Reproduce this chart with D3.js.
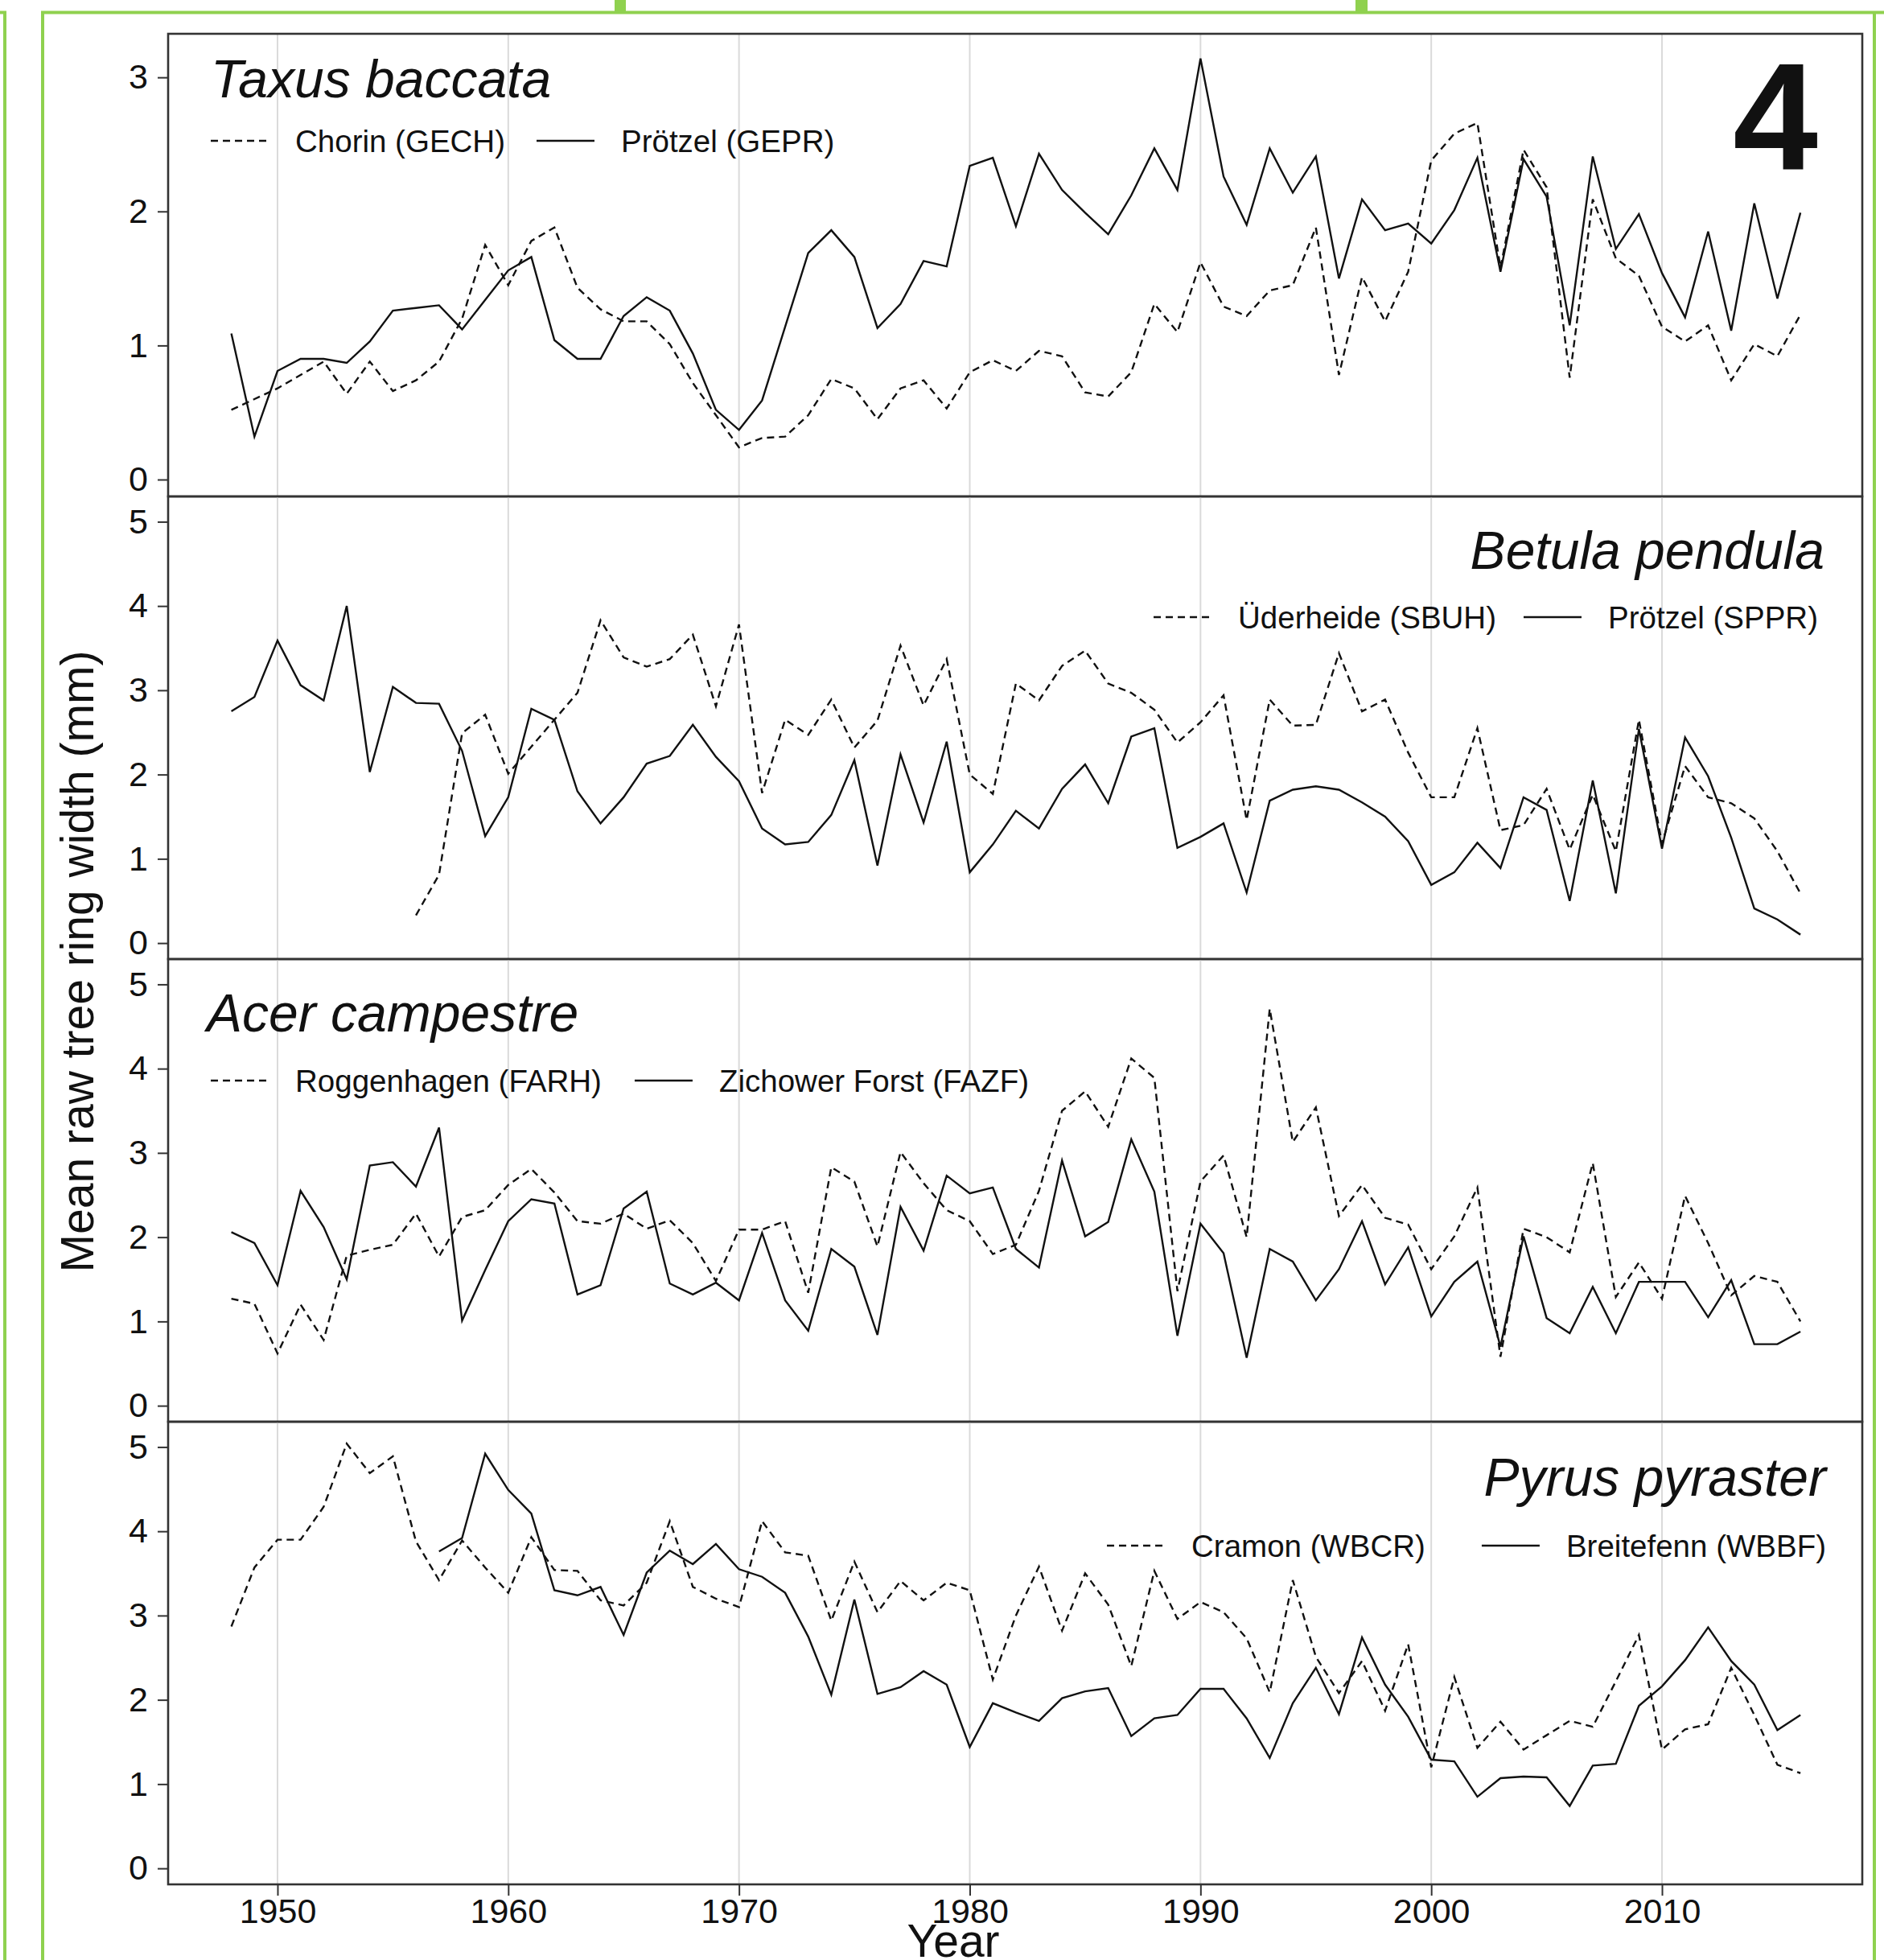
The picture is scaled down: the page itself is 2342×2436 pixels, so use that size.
<!DOCTYPE html>
<head>
<meta charset="utf-8">
<title>Mean raw tree ring width</title>
<script src="https://cdn.jsdelivr.net/npm/d3@7/dist/d3.min.js"></script>
<style>
body { margin: 0; background: #fff; }
svg text { font-family: "Liberation Sans", Arial, sans-serif; fill: #111; }
.axis text { font-size: 43px; }
.axis line { stroke: #333; stroke-width: 2px; }
.axis path { display: none; }
</style>
</head>
<body>
<script>
// years of the chronologies
var years = [1948,1949,1950,1951,1952,1953,1954,1955,1956,1957,
             1958,1959,1960,1961,1962,1963,1964,1965,1966,1967,
             1968,1969,1970,1971,1972,1973,1974,1975,1976,1977,
             1978,1979,1980,1981,1982,1983,1984,1985,1986,1987,
             1988,1989,1990,1991,1992,1993,1994,1995,1996,1997,
             1998,1999,2000,2001,2002,2003,2004,2005,2006,2007,
             2008,2009,2010,2011,2012,2013,2014,2015,2016];

// Taxus baccata
var gech = [0.52,0.60,0.68,0.78,0.88,0.64,0.88,0.66,0.74,0.88,
            1.20,1.75,1.45,1.78,1.88,1.43,1.27,1.18,1.18,1.01,
            0.72,0.48,0.24,0.31,0.32,0.48,0.75,0.68,0.45,0.68,
            0.74,0.53,0.80,0.89,0.81,0.96,0.92,0.65,0.62,0.80,
            1.31,1.10,1.62,1.29,1.22,1.41,1.45,1.88,0.78,1.51,
            1.18,1.55,2.38,2.58,2.66,1.58,2.46,2.18,0.76,2.09,
            1.65,1.52,1.14,1.03,1.15,0.74,1.01,0.92,1.23];
var gepr = [1.09,0.32,0.81,0.90,0.90,0.87,1.03,1.26,1.28,1.30,
            1.12,1.34,1.56,1.66,1.04,0.90,0.90,1.22,1.36,1.26,
            0.94,0.52,0.37,0.59,1.14,1.69,1.86,1.66,1.13,1.31,
            1.63,1.59,2.34,2.40,1.89,2.43,2.16,1.99,1.83,2.12,
            2.47,2.16,3.14,2.26,1.90,2.47,2.14,2.41,1.50,2.09,
            1.86,1.91,1.76,2.01,2.40,1.55,2.39,2.11,1.15,2.41,
            1.72,1.98,1.54,1.21,1.85,1.11,2.06,1.35,1.99];

// Betula pendula
var sbuh = [null,null,null,null,null,null,null,null,0.33,0.81,
            2.49,2.71,2.01,2.33,2.65,2.97,3.83,3.39,3.28,3.37,
            3.66,2.81,3.78,1.78,2.65,2.47,2.89,2.32,2.64,3.53,
            2.82,3.37,2.00,1.77,3.08,2.88,3.29,3.47,3.08,2.97,
            2.77,2.38,2.62,2.94,1.46,2.89,2.58,2.59,3.44,2.75,
            2.89,2.26,1.73,1.73,2.55,1.34,1.40,1.83,1.11,1.76,
            1.09,2.65,1.18,2.10,1.73,1.66,1.48,1.09,0.59];
var sppr = [2.75,2.92,3.59,3.06,2.88,4.00,2.03,3.04,2.85,2.84,
            2.28,1.27,1.73,2.78,2.65,1.80,1.42,1.73,2.13,2.22,
            2.59,2.21,1.92,1.36,1.17,1.20,1.52,2.17,0.92,2.24,
            1.43,2.39,0.84,1.17,1.57,1.36,1.83,2.12,1.66,2.45,
            2.55,1.13,1.26,1.42,0.60,1.69,1.82,1.86,1.82,1.67,
            1.50,1.21,0.69,0.84,1.19,0.89,1.73,1.58,0.50,1.93,
            0.59,2.54,1.12,2.44,1.98,1.25,0.41,0.28,0.10];

// Acer campestre
var farh = [1.27,1.21,0.62,1.20,0.78,1.78,1.85,1.91,2.28,1.77,
            2.24,2.32,2.62,2.81,2.53,2.19,2.16,2.28,2.10,2.20,
            1.93,1.48,2.09,2.09,2.19,1.34,2.83,2.66,1.89,3.01,
            2.64,2.32,2.19,1.80,1.91,2.55,3.50,3.73,3.31,4.12,
            3.89,1.36,2.66,2.97,2.00,4.71,3.13,3.54,2.25,2.62,
            2.23,2.15,1.62,2.01,2.59,0.58,2.10,2.00,1.82,2.88,
            1.29,1.70,1.27,2.49,1.93,1.31,1.54,1.47,1.00];
var fazf = [2.06,1.93,1.43,2.55,2.12,1.50,2.85,2.89,2.60,3.30,
            1.01,1.61,2.19,2.45,2.40,1.32,1.43,2.34,2.54,1.45,
            1.32,1.46,1.25,2.05,1.25,0.89,1.86,1.65,0.84,2.36,
            1.84,2.73,2.52,2.59,1.86,1.64,2.91,2.01,2.18,3.16,
            2.54,0.83,2.16,1.81,0.57,1.86,1.71,1.25,1.62,2.19,
            1.44,1.88,1.06,1.47,1.71,0.70,2.01,1.04,0.86,1.41,
            0.86,1.47,1.47,1.47,1.05,1.49,0.73,0.73,0.88];

// Pyrus pyraster
var wbcr = [2.87,3.57,3.90,3.90,4.29,5.04,4.69,4.89,3.88,3.42,
            3.89,3.57,3.27,3.93,3.54,3.53,3.18,3.12,3.39,4.12,
            3.34,3.20,3.10,4.12,3.75,3.71,2.94,3.64,3.04,3.41,
            3.18,3.39,3.30,2.24,3.00,3.58,2.82,3.50,3.13,2.40,
            3.53,2.96,3.16,3.04,2.73,2.09,3.42,2.51,2.08,2.46,
            1.87,2.66,1.20,2.27,1.43,1.74,1.41,1.58,1.75,1.68,
            2.22,2.77,1.41,1.65,1.71,2.38,1.82,1.23,1.13];
var wbbf = [null,null,null,null,null,null,null,null,null,3.76,
            3.92,4.92,4.49,4.21,3.30,3.24,3.34,2.77,3.51,3.77,
            3.61,3.85,3.55,3.46,3.27,2.75,2.06,3.19,2.07,2.15,
            2.34,2.18,1.44,1.96,1.85,1.75,2.02,2.10,2.14,1.57,
            1.78,1.82,2.13,2.13,1.78,1.31,1.96,2.38,1.83,2.74,
            2.18,1.80,1.29,1.27,0.85,1.07,1.09,1.08,0.74,1.22,
            1.24,1.93,2.16,2.47,2.86,2.46,2.18,1.64,1.82];

var species = ["Taxus baccata", "Betula pendula", "Acer campestre", "Pyrus pyraster"];
var siteNames = [["Chorin (GECH)", "Prötzel (GEPR)"],
                 ["Üderheide (SBUH)", "Prötzel (SPPR)"],
                 ["Roggenhagen (FARH)", "Zichower Forst (FAZF)"],
                 ["Cramon (WBCR)", "Breitefenn (WBBF)"]];
var xTicks = [1950, 1960, 1970, 1980, 1990, 2000, 2010];
var yTicksTaxus = [0, 1, 2, 3];
var yTicks = [0, 1, 2, 3, 4, 5];

var panels = [
  {dashed: gech, solid: gepr, yDomain: [-0.126, 3.325], ticks: yTicksTaxus},
  {dashed: sbuh, solid: sppr, yDomain: [-0.19, 5.30], ticks: yTicks},
  {dashed: farh, solid: fazf, yDomain: [-0.19, 5.30], ticks: yTicks},
  {dashed: wbcr, solid: wbbf, yDomain: [-0.19, 5.30], ticks: yTicks}
];

// where the titles and legends sit in each panel
var layout = [
  {top: 42,   align: "start", titleX: 262,  titleY: 121,  legX: 262,  legY: 175,  itemGap: 39},
  {top: 617,  align: "end",   titleX: 2268, titleY: 707,  legX: 2260, legY: 767,  itemGap: 34},
  {top: 1192, align: "start", titleX: 257,  titleY: 1282, legX: 262,  legY: 1343, itemGap: 41},
  {top: 1767, align: "end",   titleX: 2270, titleY: 1859, legX: 2270, legY: 1921, itemGap: 70}
];

var W = 2342, H = 2436;
var left = 209, right = 2315, panelH = 575;
var green = "#8fd14f";

var svg = d3.select("body").append("svg")
  .attr("width", W)
  .attr("height", H);

// green frame of the figure grid
svg.append("path")
  .attr("d", "M53,2436 V15.5 H2342 M6,2436 V15.5 H0")
  .attr("fill", "none")
  .attr("stroke", green)
  .attr("stroke-width", 4);
svg.append("line")
  .attr("x1", 2330).attr("x2", 2330).attr("y1", 15).attr("y2", H)
  .attr("stroke", green).attr("stroke-width", 4);
svg.append("rect").attr("x", 764).attr("y", 0).attr("width", 14).attr("height", 16).attr("fill", green);
svg.append("rect").attr("x", 1685).attr("y", 0).attr("width", 15).attr("height", 16).attr("fill", green);

var x = d3.scaleLinear().domain([1945.26, 2018.68]).range([left, right]);

panels.forEach(function(p, i) {
  var L = layout[i];
  var y = d3.scaleLinear().domain(p.yDomain).range([L.top + panelH, L.top]);
  var g = svg.append("g");

  // vertical grid
  g.selectAll(".grid").data(xTicks).enter().append("line")
    .attr("x1", function(d) { return x(d); })
    .attr("x2", function(d) { return x(d); })
    .attr("y1", L.top).attr("y2", L.top + panelH)
    .attr("stroke", "#dadada")
    .attr("stroke-width", 2);

  var line = d3.line()
    .defined(function(d) { return d[1] != null; })
    .x(function(d) { return x(d[0]); })
    .y(function(d) { return y(d[1]); });

  g.append("path")
    .datum(years.map(function(yr, k) { return [yr, p.dashed[k]]; }))
    .attr("d", line)
    .attr("fill", "none")
    .attr("stroke", "#111")
    .attr("stroke-width", 2.4)
    .attr("stroke-dasharray", "9,6");

  g.append("path")
    .datum(years.map(function(yr, k) { return [yr, p.solid[k]]; }))
    .attr("d", line)
    .attr("fill", "none")
    .attr("stroke", "#111")
    .attr("stroke-width", 2.4);

  // panel border
  g.append("rect")
    .attr("x", left).attr("y", L.top)
    .attr("width", right - left).attr("height", panelH)
    .attr("fill", "none")
    .attr("stroke", "#333")
    .attr("stroke-width", 2.6);

  g.append("g")
    .attr("class", "axis")
    .attr("transform", "translate(" + left + ",0)")
    .call(d3.axisLeft(y).tickValues(p.ticks).tickFormat(d3.format("d")).tickSize(13).tickPadding(12));

  // species title
  g.append("text")
    .attr("x", L.titleX).attr("y", L.titleY)
    .attr("text-anchor", L.align)
    .style("font-size", "66px")
    .style("font-style", "italic")
    .text(species[i]);

  // legend: dashed key, name, solid key, name
  var leg = g.append("g");
  var t1 = leg.append("text").style("font-size", "38.5px").text(siteNames[i][0]);
  var t2 = leg.append("text").style("font-size", "38.5px").text(siteNames[i][1]);
  var w1 = t1.node().getComputedTextLength();
  var w2 = t2.node().getComputedTextLength();
  var keyW = 72, keyGap = 33;
  var total = keyW + keyGap + w1 + L.itemGap + keyW + keyGap + w2;
  var x0 = L.align == "start" ? L.legX : L.legX - total;
  var k2 = x0 + keyW + keyGap + w1 + L.itemGap;

  leg.append("line")
    .attr("x1", x0).attr("x2", x0 + keyW).attr("y1", L.legY).attr("y2", L.legY)
    .attr("stroke", "#111").attr("stroke-width", 2.4).attr("stroke-dasharray", "9,6");
  t1.attr("x", x0 + keyW + keyGap).attr("y", L.legY + 14);
  leg.append("line")
    .attr("x1", k2).attr("x2", k2 + keyW).attr("y1", L.legY).attr("y2", L.legY)
    .attr("stroke", "#111").attr("stroke-width", 2.4);
  t2.attr("x", k2 + keyW + keyGap).attr("y", L.legY + 14);

  if (i == panels.length - 1) {
    g.append("g")
      .attr("class", "axis")
      .attr("transform", "translate(0," + (L.top + panelH) + ")")
      .call(d3.axisBottom(x).tickValues(xTicks).tickFormat(d3.format("d")).tickSize(14).tickPadding(3));
  }
});

// figure number
svg.append("text")
  .attr("x", 2260).attr("y", 211)
  .attr("text-anchor", "end")
  .style("font-size", "190px")
  .style("font-weight", "bold")
  .text("4");

// axis titles
svg.append("text")
  .attr("transform", "translate(116,1195) rotate(-90)")
  .attr("text-anchor", "middle")
  .style("font-size", "57px")
  .text("Mean raw tree ring width (mm)");

svg.append("text")
  .attr("x", 1185).attr("y", 2432)
  .attr("text-anchor", "middle")
  .style("font-size", "57px")
  .text("Year");
</script>
</body>
